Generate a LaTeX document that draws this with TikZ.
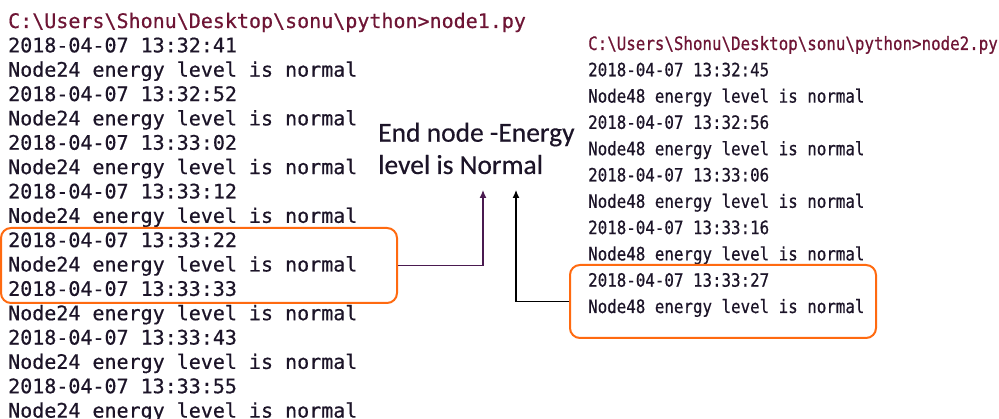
\documentclass[tikz,border=0pt]{standalone}
\usepackage{fontspec}
\setmonofont{DejaVu Sans Mono}
\newfontfamily\lmono[FakeBold=0.6]{DejaVu Sans Mono}
\newfontfamily\rmono[FakeStretch=0.86,FakeBold=0.6]{DejaVu Sans Mono}
\newfontfamily\labfont[FakeBold=0.4]{Carlito}
\usetikzlibrary{arrows.meta}
\definecolor{txt}{HTML}{1C1428}
\definecolor{prompt}{HTML}{6E1535}
\definecolor{hl}{HTML}{FF6A10}
\definecolor{conn}{HTML}{4A1A50}
\def\bs{\textbackslash}
\begin{document}
\begin{tikzpicture}[x=1pt,y=-1pt,
  lline/.style={anchor=base west,inner sep=0pt,text=txt,font=\lmono\fontsize{20pt}{24pt}\selectfont},
  rline/.style={anchor=base west,inner sep=0pt,text=txt,font=\rmono\fontsize{18.4pt}{22pt}\selectfont},
  hlbox/.style={draw=hl,line width=2pt,rounded corners=10pt,inner sep=0pt},
  labtext/.style={anchor=base west,inner sep=0pt,text=txt,font=\labfont\fontsize{27.5pt}{32pt}\selectfont},
  conline/.style={line width=1.2pt,-{Latex[length=8pt,width=7pt]}}]
\useasboundingbox (0,0) rectangle (999,419);
% left console
\node[lline,text=prompt] (l0) at (8,28) {C:\bs Users\bs Shonu\bs Desktop\bs sonu\bs python>node1.py};
\foreach \k/\t in {1/32:41,3/32:52,5/33:02,7/33:12,9/33:22,11/33:33,13/33:43,15/33:55}
  \node[lline] (l\k) at (8,{28+24.35*\k}) {2018-04-07 13:\t};
\foreach \k in {2,4,...,16}
  \node[lline] (l\k) at (8,{28+24.35*\k}) {Node24 energy level is normal};
% right console
\node[rline,text=prompt] (r0) at (588,50) {C:\bs Users\bs Shonu\bs Desktop\bs sonu\bs python>node2.py};
\foreach \k/\t in {1/32:45,3/32:56,5/33:06,7/33:16,9/33:27}
  \node[rline] (r\k) at (588,{50+26.3*\k}) {2018-04-07 13:\t};
\foreach \k in {2,4,...,10}
  \node[rline] (r\k) at (588,{50+26.3*\k}) {Node48 energy level is normal};
% highlight boxes
\node[hlbox,minimum width=396pt,minimum height=75pt] (lbox) at (199,265.5) {};
\node[hlbox,minimum width=306pt,minimum height=73pt] (rbox) at (723,301.5) {};
% label
\node[labtext] (lab1) at (378,141.7) {End node -Energy};
\node[labtext] (lab2) at (378,174) {level is Normal};
\coordinate (tipL) at (483,190);
\coordinate (tipR) at (516,190);
\draw[conline,draw=conn] (lbox.east) -| (tipL);
\draw[conline,draw=black] (rbox.west) -| (tipR);
\end{tikzpicture}
\end{document}
